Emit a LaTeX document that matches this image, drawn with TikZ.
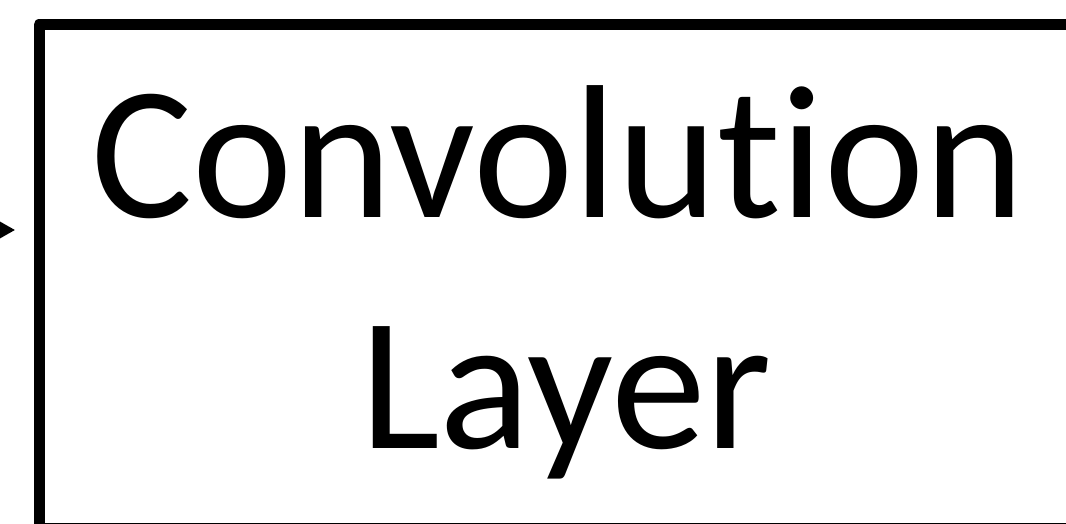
\documentclass[tikz,border=0pt]{standalone}
\usepackage{fontspec}
\setmainfont[Ligatures=CommonOff]{Carlito}
\usetikzlibrary{arrows.meta}
\begin{document}
\begin{tikzpicture}[x=1pt,y=1pt,
  frame/.style={draw=black,line width=11pt,line join=round,inner sep=0pt},
  bigtext/.style={font=\fontsize{190}{230}\selectfont,inner sep=0pt,anchor=base},
  feed/.style={-{Triangle[length=15pt,width=16pt]},line width=3pt}]
\useasboundingbox (0,0) rectangle (1066,523);
\clip (0,0) rectangle (1066,523);
\path[fill=white] (0,0) rectangle (1066,523);
\node[frame,minimum width=1070pt,minimum height=504pt,anchor=north west] (box) at (33.5,504) {};
\node[bigtext] (l1) at (558,305) {Convolution};
\node[bigtext] (l2) at (566,75) {Layer};
\coordinate (src) at (-60,293);
\coordinate (tip) at (15,293);
\draw[feed] (src) -- (tip);
\end{tikzpicture}
\end{document}
